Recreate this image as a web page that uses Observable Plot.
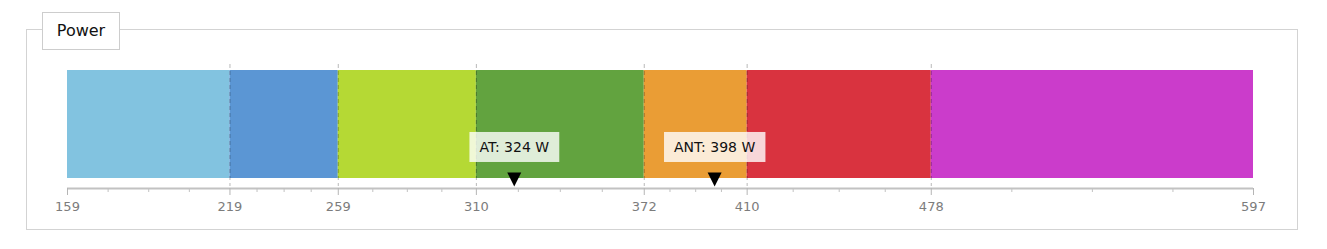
<!DOCTYPE html>
<html><head><meta charset="utf-8">
<script src="https://cdn.jsdelivr.net/npm/d3@7"></script>
<script src="https://cdn.jsdelivr.net/npm/@observablehq/plot@0.6"></script>
<style>
html,body{margin:0;padding:0;background:#fff;}
#wrap{position:relative;width:1327px;height:249px;font-family:"DejaVu Sans",sans-serif;}
#panel{position:absolute;left:26px;top:29px;width:1270px;height:199px;border:1px solid #d3d3d3;}
#title{position:absolute;left:42px;top:12px;width:76px;height:36px;border:1px solid #cdcdcd;background:#fff;font-size:16px;line-height:36px;text-align:center;color:#111;z-index:2;}
#chart{position:absolute;left:0;top:0;z-index:1;}
</style></head>
<body>
<div id="wrap">
  <div id="panel"></div>
  <div id="title">Power</div>
  <div id="chart"></div>
</div>
<script>
// Zone boundaries (W) and colours
const tickValues = [159, 219, 259, 310, 372, 410, 478, 597];
const zoneColors = ["#82c3e0", "#5b96d4", "#b5d934", "#62a33f", "#ea9d35", "#d9333f", "#cb3ccb"];
const markerNames = ["AT", "ANT"];
const markerValues = [324, 398];

const zones = zoneColors.map((c, i) => ({start: tickValues[i], end: tickValues[i + 1], color: c}));
const boundaries = tickValues.slice(1, -1);
const minorTicks = [];
for (let i = 0; i < tickValues.length - 1; i++) {
  const a = tickValues[i], b = tickValues[i + 1];
  for (let k = 1; k < 4; k++) minorTicks.push(a + (b - a) * k / 4);
}
const markers = markerNames.map((n, i) => ({name: n, value: markerValues[i], label: `${n}: ${markerValues[i]} W`}));

const downTriangle = {
  draw(context, size) {
    const h = Math.sqrt(size / Math.PI);
    context.moveTo(-h, -h);
    context.lineTo(h, -h);
    context.lineTo(0, h);
    context.closePath();
  }
};

const axisColor = "#c2c2c2";

const chart = Plot.plot({
  width: 1327,
  height: 249,
  marginLeft: 67,
  marginRight: 74,
  marginTop: 70,
  marginBottom: 61,
  style: {background: "transparent", fontFamily: "DejaVu Sans, sans-serif", fontSize: "13px", overflow: "visible"},
  x: {domain: [159, 597], axis: null},
  y: {domain: [0, 1], axis: null},
  marks: [
    Plot.barX(zones, {x1: "start", x2: "end", fill: "color", insetTop: 0, insetBottom: 10, insetLeft: 0, insetRight: 0}),
    Plot.ruleX(boundaries, {x: d => d, stroke: "rgba(0,0,0,0.28)", strokeDasharray: "4,3", insetTop: -6, insetBottom: 2}),
    Plot.ruleY([0], {stroke: axisColor, strokeWidth: 2}),
    Plot.ruleX(minorTicks, {x: d => d, stroke: axisColor, strokeWidth: 1, insetTop: 118, insetBottom: -4}),
    Plot.axisX(tickValues, {
      tickSize: 7, tickPadding: 6, stroke: "#b5b5b5", fill: "#7c7c7c",
      fontSize: 13, tickFormat: d => String(d), label: null
    }),
    Plot.text(markers, {x: "value", text: "label", frameAnchor: "bottom", dy: -41, lineAnchor: "middle", fill: "#111", fontSize: 14}),
    Plot.dot(markers, {x: "value", frameAnchor: "bottom", dy: -9, r: 7, symbol: downTriangle, fill: "#000", stroke: "none"})
  ]
});
document.getElementById("chart").appendChild(chart);

// background boxes behind marker labels
const ns = "http://www.w3.org/2000/svg";
chart.querySelectorAll('g[aria-label="text"] text').forEach(t => {
  const bb = t.getBBox();
  const cy = bb.y + bb.height / 2;
  const r = document.createElementNS(ns, "rect");
  r.setAttribute("x", bb.x - 10);
  r.setAttribute("width", bb.width + 20);
  r.setAttribute("y", cy - 15);
  r.setAttribute("height", 30);
  r.setAttribute("fill", "rgba(255,255,255,0.8)");
  r.setAttribute("stroke", "none");
  if (t.getAttribute("transform")) r.setAttribute("transform", t.getAttribute("transform"));
  t.parentNode.insertBefore(r, t);
});
</script>
</body></html>
